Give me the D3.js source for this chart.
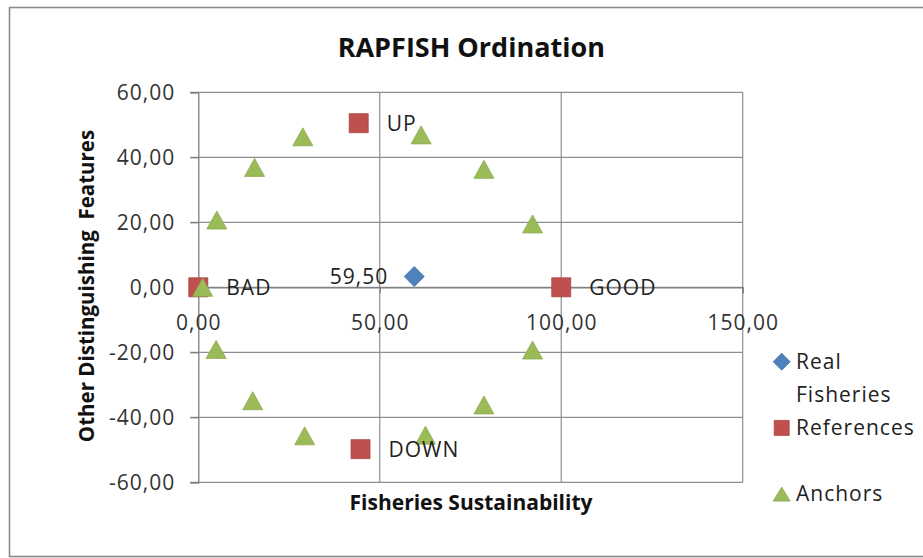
<!DOCTYPE html>
<html><head><meta charset="utf-8">
<script src="https://cdn.jsdelivr.net/npm/d3@7"></script>
<style>
body{margin:0;background:#fff}
svg{display:block;font-family:"Open Sans",sans-serif}
</style>
</head><body>
<svg id="chart" width="923" height="558"></svg>
<script>
// ---------- data ----------
const chartTitle = "RAPFISH Ordination";
const xAxisTitle = "Fisheries Sustainability";
const yAxisTitle = "Other Distinguishing  Features";
const xTickValues = [0, 50, 100, 150];
const yTickValues = [-60, -40, -20, 0, 20, 40, 60];
const xDomain = [0, 150];
const yDomain = [-60, 60];

const seriesNames = ["Real Fisheries", "References", "Anchors"];

const realX = [59.5];
const realY = [3.3];

const refNames = ["BAD", "GOOD", "UP", "DOWN"];
const refX = [0, 100, 44.2, 44.7];
const refY = [0, 0, 50.5, -49.8];

const anchorX = [1.2, 5.1, 15.5, 28.8, 61.4, 78.7, 92.1, 92.1, 78.7, 62.6, 29.3, 15.0, 4.9];
const anchorY = [0, 20.7, 36.9, 46.3, 46.9, 36.3, 19.5, -19.3, -36.2, -45.5, -45.7, -34.9, -19.1];

// ---------- styles / layout ----------
const W = 923, H = 558;
const plot = {left: 198.3, right: 742.7, top: 92.3, bottom: 482.3};
const colors = {real: "#4F81BD", ref: "#C0504D", anchor: "#9BBB59", grid: "#8e8e8e", text: "#222"};

const locale = d3.formatLocale({decimal: ",", thousands: ".", grouping: [3], currency: ["", ""], minus: "-"});
const fmt = locale.format(".2f");

const svg = d3.select("#chart");

// outer frame
svg.append("rect").attr("x", 9.5).attr("y", 7.5).attr("width", W + 20).attr("height", 549)
  .attr("fill", "none").attr("stroke", "#8a8a8a").attr("stroke-width", 1.6);

const x = d3.scaleLinear().domain(xDomain).range([plot.left, plot.right]);
const y = d3.scaleLinear().domain(yDomain).range([plot.bottom, plot.top]);

// gridlines
const g = svg.append("g");
g.selectAll("line.hg").data(yTickValues).join("line")
  .attr("x1", plot.left - 8).attr("x2", plot.right)
  .attr("y1", d => y(d)).attr("y2", d => y(d))
  .attr("stroke", colors.grid).attr("stroke-width", 1.2);
g.selectAll("line.vg").data(xTickValues.filter(d => d !== 0)).join("line")
  .attr("x1", d => x(d)).attr("x2", d => x(d))
  .attr("y1", plot.top).attr("y2", plot.bottom)
  .attr("stroke", colors.grid).attr("stroke-width", 1.2);

// y axis (at x=0)
const yAxis = d3.axisLeft(y).tickValues(yTickValues).tickSize(8).tickPadding(15).tickFormat(fmt);
const ya = svg.append("g").attr("transform", `translate(${x(0)},0)`).call(yAxis);
// x axis (at y=0)
const xAxis = d3.axisBottom(x).tickValues(xTickValues).tickSize(6).tickPadding(22).tickFormat(fmt);
const xa = svg.append("g").attr("transform", `translate(0,${y(0)})`).call(xAxis);
[ya, xa].forEach(a => {
  a.select(".domain").attr("stroke", "#7f7f7f").attr("stroke-width", 1.3);
  a.selectAll(".tick line").attr("stroke", "#7f7f7f").attr("stroke-width", 1.2);
  a.selectAll(".tick text").attr("font-family", "Open Sans").attr("font-size", 21)
    .attr("letter-spacing", 1).attr("fill", "#333");
});
xa.selectAll(".tick line").attr("y1", 0);

// marker shapes
const diamond = r => `M0,${-r}L${r},0L0,${r}L${-r},0Z`;
const square = s => `M${-s/2},${-s/2}h${s}v${s}h${-s}Z`;
const triangle = (w, h) => `M0,${-h/2}L${w/2},${h/2}L${-w/2},${h/2}Z`;

// series: Real Fisheries
const realData = realX.map((v, i) => ({x: v, y: realY[i]}));
svg.selectAll("path.real").data(realData).join("path")
  .attr("d", diamond(10)).attr("transform", d => `translate(${x(d.x)},${y(d.y)})`)
  .attr("fill", colors.real).attr("stroke", "#3f6ea5").attr("stroke-width", 0.8);

// series: References
const refData = refNames.map((n, i) => ({name: n, x: refX[i], y: refY[i]}));
svg.selectAll("path.ref").data(refData).join("path")
  .attr("d", square(19)).attr("transform", d => `translate(${x(d.x)},${y(d.y)})`)
  .attr("fill", colors.ref).attr("stroke", "#a94542").attr("stroke-width", 0.8);

// series: Anchors
const anchorData = anchorX.map((v, i) => ({x: v, y: anchorY[i]}));
svg.selectAll("path.anc").data(anchorData).join("path")
  .attr("d", triangle(20, 18)).attr("transform", d => `translate(${x(d.x)},${y(d.y)})`)
  .attr("fill", colors.anchor).attr("stroke", "#8cab4f").attr("stroke-width", 0.8);

// data labels
const lab = {"font-family": "Open Sans", "font-size": 21, "letter-spacing": 1, fill: "#222"};
function applyAttrs(sel, o) { Object.entries(o).forEach(([k, v]) => sel.attr(k, v)); return sel; }
applyAttrs(svg.selectAll("text.reflab").data(refData).join("text")
  .attr("x", d => x(d.x) + 28).attr("y", d => y(d.y)).attr("dy", "0.35em")
  .text(d => d.name), lab);
applyAttrs(svg.selectAll("text.reallab").data(realData).join("text")
  .attr("x", d => x(d.x) - 26).attr("y", d => y(d.y)).attr("dy", "0.35em")
  .attr("text-anchor", "end").text(d => fmt(d.x)), lab);

// titles
svg.append("text").attr("x", 471.3).attr("y", 56.7).attr("text-anchor", "middle")
  .attr("font-family", "Open Sans").attr("font-weight", "bold").attr("font-size", 27)
  .attr("fill", "#111").text(chartTitle);
svg.append("text").attr("x", 471).attr("y", 510).attr("text-anchor", "middle")
  .attr("font-family", "Open Sans").attr("font-weight", "bold").attr("font-size", 21)
  .attr("fill", "#111").text(xAxisTitle);
svg.append("text").attr("transform", "translate(87,286) rotate(-90)").attr("dy", "0.35em")
  .attr("text-anchor", "middle").attr("font-family", "Open Sans").attr("font-weight", "bold")
  .attr("font-size", 20.5).attr("fill", "#111").attr("xml:space", "preserve")
  .style("white-space", "pre").text(yAxisTitle);

// legend
const legendMarkers = [
  {d: diamond(8.5), fill: colors.real, stroke: "#3f6ea5"},
  {d: square(15), fill: colors.ref, stroke: "#a94542"},
  {d: triangle(17, 14), fill: colors.anchor, stroke: "#8cab4f"}
];
const leg = {mx: 781.7, tx: 796, top: 361.7, slot: 66.2, line: 33.3, maxW: 125};
seriesNames.forEach((name, i) => {
  const cy = leg.top + i * leg.slot;
  svg.append("path").attr("d", legendMarkers[i].d).attr("transform", `translate(${leg.mx},${cy})`)
    .attr("fill", legendMarkers[i].fill).attr("stroke", legendMarkers[i].stroke).attr("stroke-width", 0.8);
  const t = applyAttrs(svg.append("text").attr("x", leg.tx).attr("y", cy).attr("dy", "0.35em"), lab);
  // wrap words to legend width
  const words = name.split(" ");
  let lines = [], cur = "";
  words.forEach(w => {
    const test = cur ? cur + " " + w : w;
    t.text(test);
    if (t.node().getComputedTextLength() > leg.maxW && cur) { lines.push(cur); cur = w; }
    else cur = test;
  });
  lines.push(cur);
  t.text(null);
  lines.forEach((ln, k) => {
    t.append("tspan").attr("x", leg.tx).attr("y", cy + k * leg.line).attr("dy", "0.35em").text(ln);
  });
});
</script>
</body></html>
